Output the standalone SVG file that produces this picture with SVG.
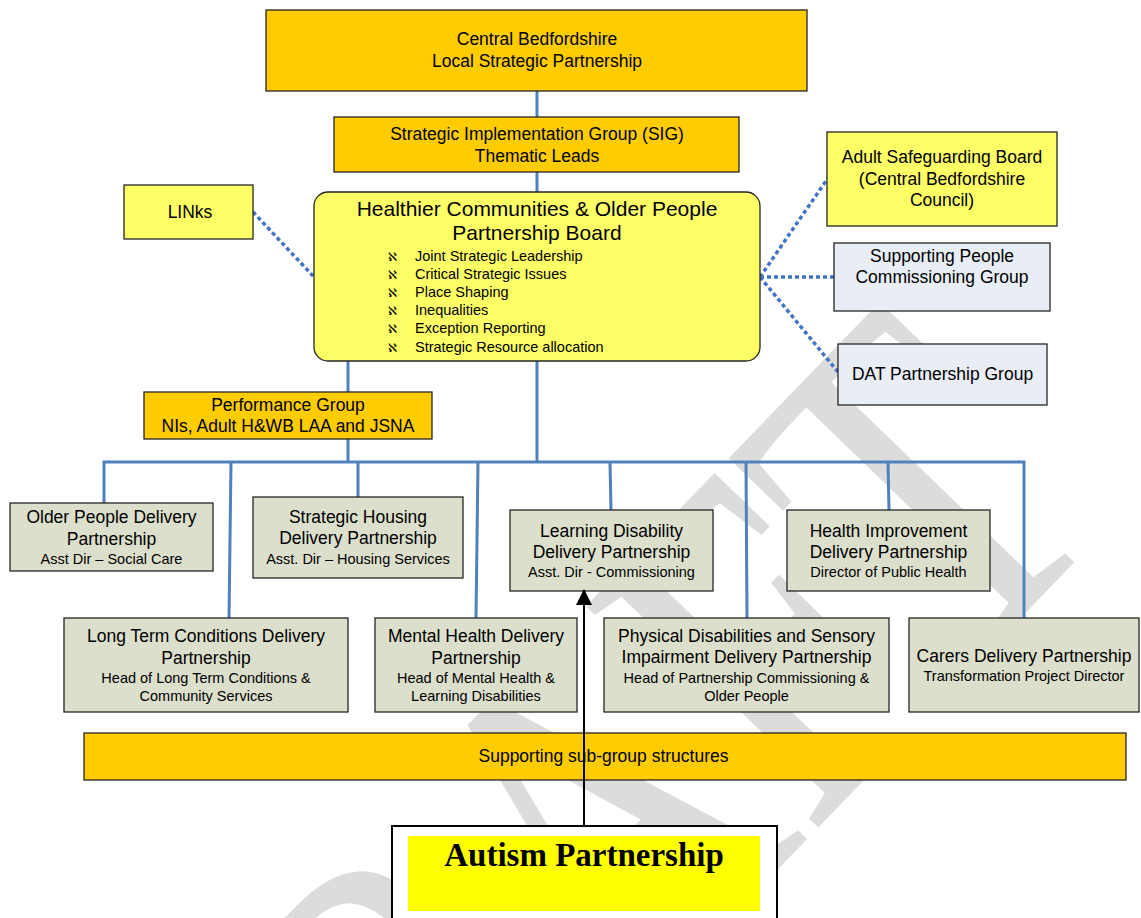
<svg xmlns="http://www.w3.org/2000/svg" width="1141" height="918" viewBox="0 0 1141 918">
  <defs>
    <style>
      .box{stroke:#262626;stroke-width:1.3}
      .gold{fill:#ffcc00}
      .lemon{fill:#ffff66}
      .sage{fill:#dcdfcc}
      .mist{fill:#e9edf5}
      .t{font-family:"Liberation Sans",Arial,sans-serif;fill:#000;text-anchor:middle}
      .big{font-size:17.5px}
      .small{font-size:14.5px}
      .link{stroke:#4f81bd;stroke-width:3;fill:none}
      .dot{stroke:#4472c4;stroke-width:3.5;stroke-dasharray:4 3;fill:none}
      .bul{font-family:"DejaVu Sans",sans-serif;font-size:12px}
      .item{font-family:"Liberation Sans",Arial,sans-serif;font-size:14.5px}
    </style>
    <marker id="arrowHead" viewBox="0 0 16 16" refX="15" refY="8" markerWidth="16" markerHeight="16" markerUnits="userSpaceOnUse" orient="auto">
      <path d="M0,0 L16,8 L0,16 Z" fill="#000"/>
    </marker>
  </defs>

  <rect width="1141" height="918" fill="#fff"/>

  <!-- watermark, drawn under everything -->
  <text x="-1457" y="0" transform="translate(1035,603) rotate(-46) scale(0.77,1)" font-family="'Liberation Serif','Times New Roman',serif" font-size="490" fill="#dcdcdc" style="font-kerning:none">DRAFT</text>

  <!-- connectors -->
  <g id="connectors">
    <path class="link" d="M537,91 V117"/>
    <path class="link" d="M537,172 V192"/>
    <path class="link" d="M348,361 V392"/>
    <path class="link" d="M537,361 V462"/>
    <path class="link" d="M348,439 V462"/>
    <path class="link" d="M104,503 V462 H1024 V618"/>
    <path class="link" d="M231,462 L229,618"/>
    <path class="link" d="M358,462 V497"/>
    <path class="link" d="M478,462 L476,618"/>
    <path class="link" d="M610,462 L611,510"/>
    <path class="link" d="M746,462 L747,618"/>
    <path class="link" d="M888,462 L889,510"/>
    <path class="dot" d="M253,212 L314,277"/>
    <path class="dot" d="M760,277 L828,178"/>
    <path class="dot" d="M760,277 H834"/>
    <path class="dot" d="M760,277 L838,372"/>
  </g>

  <g id="lsp">
    <rect class="box gold" x="266" y="10" width="541" height="81"/>
    <text class="t big" x="537" y="45">Central Bedfordshire</text>
    <text class="t big" x="537" y="67">Local Strategic Partnership</text>
  </g>

  <g id="sig">
    <rect class="box gold" x="334" y="117" width="405" height="55"/>
    <text class="t big" x="537" y="140">Strategic Implementation Group (SIG)</text>
    <text class="t big" x="537" y="162">Thematic Leads</text>
  </g>

  <g id="links">
    <rect class="box lemon" x="124" y="185" width="129" height="54"/>
    <text class="t big" x="190" y="218">LINks</text>
  </g>

  <g id="board">
    <rect class="box lemon" x="314" y="192" width="446" height="169" rx="14"/>
    <text class="t" font-size="21" x="537" y="216">Healthier Communities &amp; Older People</text>
    <text class="t" font-size="21" x="537" y="240">Partnership Board</text>
    <g class="bul">
      <text x="388" y="261">ℵ</text>
      <text x="388" y="279">ℵ</text>
      <text x="388" y="297">ℵ</text>
      <text x="388" y="315">ℵ</text>
      <text x="388" y="333">ℵ</text>
      <text x="388" y="352">ℵ</text>
    </g>
    <g class="item">
      <text x="415" y="261">Joint Strategic Leadership</text>
      <text x="415" y="279">Critical Strategic Issues</text>
      <text x="415" y="297">Place Shaping</text>
      <text x="415" y="315">Inequalities</text>
      <text x="415" y="333">Exception Reporting</text>
      <text x="415" y="352">Strategic Resource allocation</text>
    </g>
  </g>

  <g id="safeguarding">
    <rect class="box lemon" x="827" y="132" width="230" height="94"/>
    <text class="t big" x="942" y="163">Adult Safeguarding Board</text>
    <text class="t big" x="942" y="185">(Central Bedfordshire</text>
    <text class="t big" x="942" y="206">Council)</text>
  </g>

  <g id="supporting-people">
    <rect class="box mist" x="834" y="243" width="216" height="68"/>
    <text class="t big" x="942" y="262">Supporting People</text>
    <text class="t big" x="942" y="283">Commissioning Group</text>
  </g>

  <g id="dat">
    <rect class="box mist" x="838" y="344" width="209" height="61"/>
    <text class="t big" x="942.5" y="380">DAT Partnership Group</text>
  </g>

  <g id="performance">
    <rect class="box gold" x="144" y="392" width="288" height="47"/>
    <text class="t big" x="288" y="411">Performance Group</text>
    <text class="t big" x="288" y="432">NIs, Adult H&amp;WB LAA and JSNA</text>
  </g>

  <g id="older-people">
    <rect class="box sage" x="10" y="503" width="203" height="68"/>
    <text class="t big" x="111.5" y="523">Older People Delivery</text>
    <text class="t big" x="111.5" y="545">Partnership</text>
    <text class="t small" x="111.5" y="564">Asst Dir – Social Care</text>
  </g>

  <g id="housing">
    <rect class="box sage" x="253" y="497" width="210" height="81"/>
    <text class="t big" x="358" y="523">Strategic Housing</text>
    <text class="t big" x="358" y="544">Delivery Partnership</text>
    <text class="t small" x="358" y="564">Asst. Dir – Housing Services</text>
  </g>

  <g id="learning-disability">
    <rect class="box sage" x="510" y="510" width="203" height="81"/>
    <text class="t big" x="611.5" y="537">Learning Disability</text>
    <text class="t big" x="611.5" y="558">Delivery Partnership</text>
    <text class="t small" x="611.5" y="577">Asst. Dir - Commissioning</text>
  </g>

  <g id="health-improvement">
    <rect class="box sage" x="787" y="510" width="203" height="81"/>
    <text class="t big" x="888.5" y="537">Health Improvement</text>
    <text class="t big" x="888.5" y="558">Delivery Partnership</text>
    <text class="t small" x="888.5" y="577">Director of Public Health</text>
  </g>

  <g id="long-term-conditions">
    <rect class="box sage" x="64" y="618" width="284" height="94"/>
    <text class="t big" x="206" y="642">Long Term Conditions Delivery</text>
    <text class="t big" x="206" y="664">Partnership</text>
    <text class="t small" x="206" y="683">Head of Long Term Conditions &amp;</text>
    <text class="t small" x="206" y="701">Community Services</text>
  </g>

  <g id="mental-health">
    <rect class="box sage" x="375" y="618" width="202" height="94"/>
    <text class="t big" x="476" y="642">Mental Health Delivery</text>
    <text class="t big" x="476" y="664">Partnership</text>
    <text class="t small" x="476" y="683">Head of Mental Health &amp;</text>
    <text class="t small" x="476" y="701">Learning Disabilities</text>
  </g>

  <g id="physical-disabilities">
    <rect class="box sage" x="604" y="618" width="285" height="94"/>
    <text class="t big" x="746.5" y="642">Physical Disabilities and Sensory</text>
    <text class="t big" x="746.5" y="663">Impairment Delivery Partnership</text>
    <text class="t small" x="746.5" y="683">Head of Partnership Commissioning &amp;</text>
    <text class="t small" x="746.5" y="701">Older People</text>
  </g>

  <g id="carers">
    <rect class="box sage" x="909" y="618" width="230" height="94"/>
    <text class="t big" x="1024" y="662">Carers Delivery Partnership</text>
    <text class="t small" x="1024" y="681">Transformation Project Director</text>
  </g>

  <g id="sub-groups">
    <rect class="box gold" x="84" y="733" width="1042" height="47"/>
    <text class="t big" x="603.5" y="762">Supporting sub-group structures</text>
  </g>

  <g id="autism">
    <rect x="392" y="826" width="385" height="110" fill="#fff" stroke="#000" stroke-width="2"/>
    <rect x="408" y="836" width="352" height="75" fill="#ffff00"/>
    <text x="584" y="866" font-family="'Liberation Serif','Times New Roman',serif" font-weight="bold" font-size="33" text-anchor="middle">Autism Partnership</text>
  </g>

  <g id="autism-link">
    <path d="M584,826 V590" stroke="#000" stroke-width="2" fill="none" marker-end="url(#arrowHead)"/>
  </g>
</svg>
